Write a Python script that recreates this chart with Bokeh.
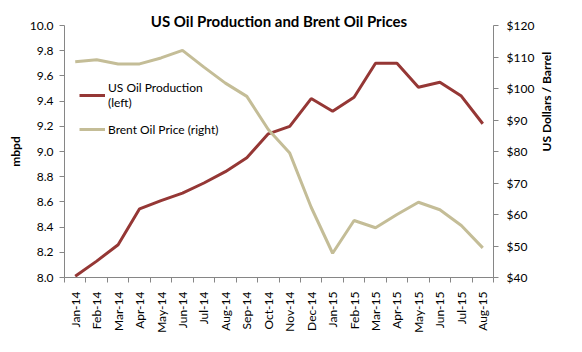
import math
from bokeh.plotting import figure
from bokeh.models import (Range1d, LinearAxis, FixedTicker, Legend, LegendItem,
                          PrintfTickFormatter, NumeralTickFormatter)
from bokeh.embed import file_html
from bokeh.resources import INLINE

months = ["Jan-14", "Feb-14", "Mar-14", "Apr-14", "May-14", "Jun-14", "Jul-14",
          "Aug-14", "Sep-14", "Oct-14", "Nov-14", "Dec-14", "Jan-15", "Feb-15",
          "Mar-15", "Apr-15", "May-15", "Jun-15", "Jul-15", "Aug-15"]
us_production = [8.01, 8.13, 8.26, 8.545, 8.61, 8.67, 8.75, 8.84, 8.95, 9.14,
                 9.20, 9.42, 9.32, 9.43, 9.70, 9.70, 9.51, 9.55, 9.44, 9.22]
brent_price = [108.5, 109.1, 107.8, 107.8, 109.7, 112.1, 106.8, 101.7, 97.5, 87.0,
               79.5, 62.3, 47.7, 58.1, 55.8, 60.0, 63.9, 61.5, 56.5, 49.4]
left_ticks = [8.0, 8.2, 8.4, 8.6, 8.8, 9.0, 9.2, 9.4, 9.6, 9.8, 10.0]
right_ticks = [40, 50, 60, 70, 80, 90, 100, 110, 120]

FONT = "Lato"
PROD_COLOR = "#953735"
BRENT_COLOR = "#C4BD97"
AXIS_COLOR = "#868686"

x = [i + 0.5 for i in range(len(months))]

p = figure(width=582, height=352, output_backend="svg", toolbar_location=None,
           x_range=Range1d(0, len(months)), y_range=Range1d(8.0, 10.0),
           min_border_left=64, min_border_right=89, min_border_top=25,
           min_border_bottom=75, title="US Oil Production and Brent Oil Prices")
p.extra_y_ranges = {"usd": Range1d(40, 120)}
p.outline_line_color = None
p.grid.visible = False
p.background_fill_color = "white"
p.border_fill_color = "white"

p.title.align = "center"
p.title.text_font = FONT
p.title.text_font_size = "15px"
p.title.text_font_style = "bold"
p.title.text_color = "black"
p.title.offset = 8
p.title.standoff = -9

# x axis
xa = p.xaxis[0]
xa.ticker = FixedTicker(ticks=x, minor_ticks=list(range(len(months) + 1)))
xa.major_label_overrides = {xi: m for xi, m in zip(x, months)}
xa.major_label_orientation = math.pi / 2
xa.major_tick_out = 0
xa.major_tick_in = 0
xa.minor_tick_out = 5
xa.minor_tick_in = 0
xa.minor_tick_line_color = AXIS_COLOR
xa.axis_line_color = AXIS_COLOR
xa.major_label_standoff = 9
xa.major_label_text_font = FONT
xa.major_label_text_font_size = "12px"
xa.major_label_text_color = "black"

# left axis
ya = p.yaxis[0]
ya.ticker = FixedTicker(ticks=left_ticks)
ya.formatter = PrintfTickFormatter(format="%.1f")
ya.minor_tick_line_color = None
ya.major_tick_out = 5
ya.major_tick_in = 0
ya.major_tick_line_color = AXIS_COLOR
ya.axis_line_color = AXIS_COLOR
ya.major_label_standoff = 6
ya.major_label_text_font = FONT
ya.major_label_text_font_size = "12px"
ya.major_label_text_color = "black"
ya.axis_label = "mbpd"
ya.axis_label_text_font = FONT
ya.axis_label_text_font_size = "12px"
ya.axis_label_text_font_style = "bold"
ya.axis_label_text_color = "black"
ya.axis_label_standoff = 4

# right axis
ra = LinearAxis(y_range_name="usd", ticker=FixedTicker(ticks=right_ticks),
                formatter=NumeralTickFormatter(format="$0"))
ra.minor_tick_line_color = None
ra.major_tick_out = 5
ra.major_tick_in = 0
ra.major_tick_line_color = AXIS_COLOR
ra.axis_line_color = AXIS_COLOR
ra.major_label_standoff = 8
ra.major_label_text_font = FONT
ra.major_label_text_font_size = "12px"
ra.major_label_text_color = "black"
ra.axis_label = "US Dollars / Barrel"
ra.axis_label_text_font = FONT
ra.axis_label_text_font_size = "12px"
ra.axis_label_text_font_style = "bold"
ra.axis_label_text_color = "black"
ra.axis_label_standoff = 9
ra.axis_label_orientation = math.pi / 2
p.add_layout(ra, "right")

r_prod = p.line(x, us_production, line_color=PROD_COLOR, line_width=3)
r_brent = p.line(x, brent_price, y_range_name="usd", line_color=BRENT_COLOR, line_width=3)

legend = Legend(items=[LegendItem(label="US Oil Production\n(left)", renderers=[r_prod]),
                       LegendItem(label="Brent Oil Price (right)", renderers=[r_brent])],
                location=(15, 138))
legend.label_text_font = FONT
legend.label_text_font_size = "12px"
legend.label_text_color = "black"
legend.glyph_width = 26
legend.label_standoff = 3
legend.spacing = 9
legend.padding = 0
legend.margin = 0
legend.background_fill_alpha = 0
legend.border_line_alpha = 0
p.add_layout(legend, "center")

open("out.html", "w").write(file_html(p, INLINE))
